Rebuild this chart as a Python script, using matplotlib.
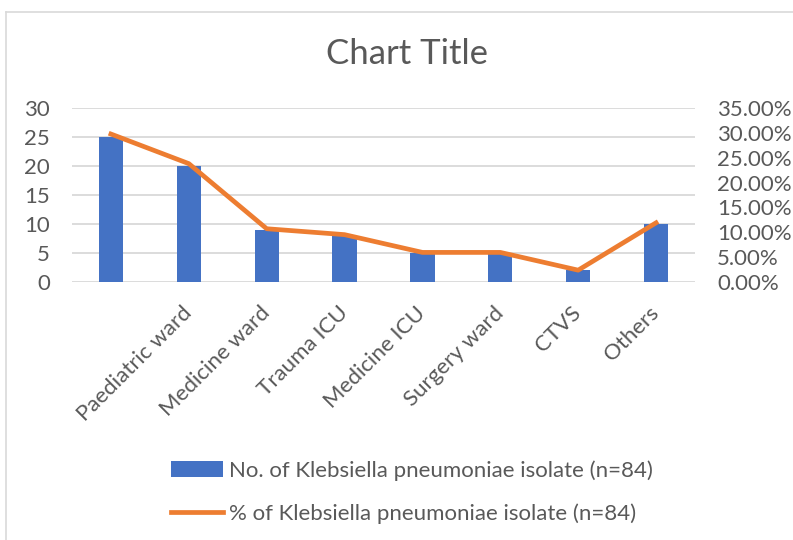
import matplotlib.pyplot as plt
from matplotlib.lines import Line2D
from matplotlib.ticker import FuncFormatter

# wards (first slot has no label in the source chart)
wards = ["", "Paediatric ward", "Medicine ward", "Trauma ICU", "Medicine ICU",
         "Surgery ward", "CTVS", "Others"]
counts = [25, 20, 9, 8, 5, 5, 2, 10]
total = 84
percents = [c / total for c in counts]

bar_label = "No. of Klebsiella pneumoniae isolate (n=84)"
line_label = "% of Klebsiella pneumoniae isolate (n=84)"

blue = "#4472C4"
orange = "#ED7D31"
grey_text = "#595959"
grid_col = "#D9D9D9"

plt.rcParams['font.family'] = ['Lato', 'DejaVu Sans']

W, H = 793, 540
fig = plt.figure(figsize=(W / 100, H / 100), dpi=100)

# chart area border (left and top edges visible)
fig.add_artist(Line2D([5.5 / W, 5.5 / W], [0, 1 - 12 / H], color=grid_col, lw=1.2,
                      transform=fig.transFigure))
fig.add_artist(Line2D([5.5 / W, 1], [1 - 12 / H, 1 - 12 / H], color=grid_col, lw=1.2,
                      transform=fig.transFigure))

ax = fig.add_axes([72 / W, 1 - 282 / H, (695 - 72) / W, (282 - 108) / H])
x = list(range(len(wards)))
bars = ax.bar(x, counts, width=0.31, color=blue, zorder=2, label=bar_label)
ax.set_xlim(-0.5, len(wards) - 0.5)
ax.set_ylim(0, 30)
ax.set_yticks(range(0, 31, 5))
ax.grid(axis='y', color=grid_col, lw=1.3, zorder=0)
for s in ax.spines.values():
    s.set_visible(False)
ax.tick_params(axis='y', length=0, pad=16, labelsize=16, labelcolor=grey_text)
ax.tick_params(axis='x', length=0, pad=20, labelsize=16, labelcolor=grey_text)
ax.set_xticks(x)
ax.set_xticklabels(wards, rotation=45, ha='right', rotation_mode='anchor', va='center')

ax2 = ax.twinx()
line, = ax2.plot(x, percents, color=orange, lw=3.4, zorder=3, label=line_label,
                 solid_joinstyle='round')
ax2.set_ylim(0, 0.35)
ax2.set_yticks([i * 0.05 for i in range(8)])
ax2.yaxis.set_major_formatter(FuncFormatter(lambda v, p: f"{v:.2%}"))
for s in ax2.spines.values():
    s.set_visible(False)
ax2.tick_params(axis='y', length=0, pad=16, labelsize=16, labelcolor=grey_text)

fig.text(407 / W, 1 - 54 / H, "Chart Title", ha='center', va='center',
         fontsize=25, color=grey_text)

fig.legend(handles=[bars, line], labels=[bar_label, line_label],
           loc='upper left', bbox_to_anchor=(171 / W, 1 - 460 / H),
           frameon=False, fontsize=16, labelcolor=grey_text,
           handlelength=2.35, handletextpad=0.25, labelspacing=1.03,
           borderpad=0, borderaxespad=0)

fig.savefig("out.png", dpi=100)
